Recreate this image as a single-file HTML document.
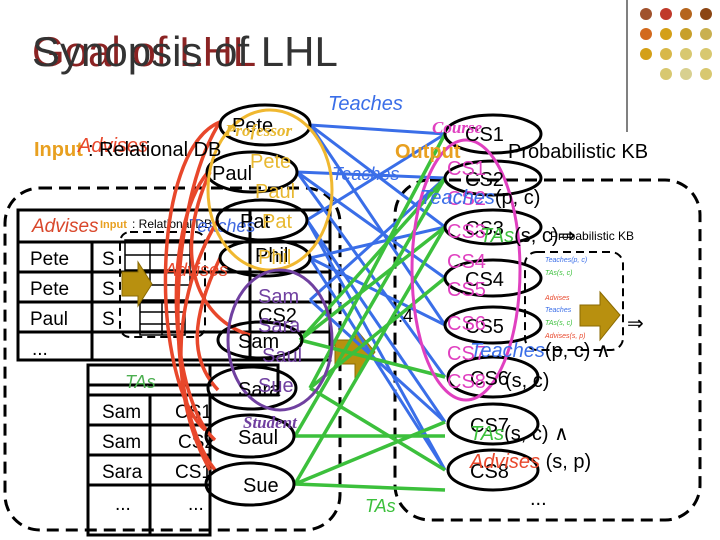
<!DOCTYPE html>
<html><head><meta charset="utf-8"><style>
body{margin:0;width:720px;height:540px;background:#fff;overflow:hidden;position:relative;font-family:"Liberation Sans",sans-serif}
svg{position:absolute;left:0;top:0}
</style></head><body>
<svg width="720" height="540" viewBox="0 0 720 540" font-family="Liberation Sans, sans-serif">
<g>
<circle cx="646" cy="14" r="6" fill="#a0522d"/><circle cx="666" cy="14" r="6" fill="#c0392b"/><circle cx="686" cy="14" r="6" fill="#b5651d"/><circle cx="706" cy="14" r="6" fill="#8b4513"/>
<circle cx="646" cy="34" r="6" fill="#d2691e"/><circle cx="666" cy="34" r="6" fill="#d4a017"/><circle cx="686" cy="34" r="6" fill="#c8a02a"/><circle cx="706" cy="34" r="6" fill="#c9b050"/>
<circle cx="646" cy="54" r="6" fill="#d4a017"/><circle cx="666" cy="54" r="6" fill="#d8b84a"/><circle cx="686" cy="54" r="6" fill="#d8c870"/><circle cx="706" cy="54" r="6" fill="#d8c870"/>
<circle cx="666" cy="74" r="6" fill="#d8c870"/><circle cx="686" cy="74" r="6" fill="#d8d090"/><circle cx="706" cy="74" r="6" fill="#d8c870"/>
</g>
<line x1="627" y1="0" x2="627" y2="132" stroke="#000" stroke-width="1"/>
<text x="32" y="66" font-size="42" fill="#8b2323">Goal of LHL</text>
<text x="32" y="66" font-size="42" fill="#333">Synopsis of LHL</text>

<rect x="5" y="188" width="335" height="342" rx="35" fill="none" stroke="#000" stroke-width="3" stroke-dasharray="12,7"/>
<rect x="395" y="180" width="305" height="340" rx="35" fill="none" stroke="#000" stroke-width="3" stroke-dasharray="12,7"/>
<rect x="525" y="252" width="98" height="98" rx="12" fill="none" stroke="#000" stroke-width="2" stroke-dasharray="8,5"/>
<rect x="120" y="232" width="85" height="105" rx="10" fill="none" stroke="#000" stroke-width="2" stroke-dasharray="8,5"/>

<g stroke="#000" stroke-width="3" fill="none">
<rect x="18" y="210" width="312" height="150"/>
<line x1="18" y1="242" x2="330" y2="242"/>
<line x1="18" y1="272" x2="330" y2="272"/>
<line x1="18" y1="302" x2="330" y2="302"/>
<line x1="18" y1="332" x2="330" y2="332"/>
<line x1="92" y1="242" x2="92" y2="360"/>
<line x1="250" y1="210" x2="250" y2="360"/>
<rect x="88" y="365" width="122" height="20"/>
<rect x="88" y="365" width="190" height="30"/>
<rect x="88" y="395" width="122" height="140"/>
<line x1="88" y1="425" x2="210" y2="425"/>
<line x1="88" y1="455" x2="210" y2="455"/>
<line x1="88" y1="485" x2="210" y2="485"/>
<line x1="150" y1="395" x2="150" y2="535"/>
</g>
<g stroke="#000" stroke-width="1.5" fill="none">
<rect x="125" y="240" width="65" height="45"/><line x1="125" y1="255" x2="190" y2="255"/><line x1="125" y1="270" x2="190" y2="270"/><line x1="150" y1="240" x2="150" y2="285"/>
<rect x="140" y="300" width="45" height="35"/><line x1="140" y1="312" x2="185" y2="312"/><line x1="140" y1="324" x2="185" y2="324"/><line x1="162" y1="300" x2="162" y2="335"/>
</g>
<g font-size="19" fill="#000">
<text x="30" y="265">Pete</text><text x="30" y="295">Pete</text><text x="30" y="325">Paul</text><text x="32" y="355">...</text>
<text x="102" y="265">S</text><text x="102" y="295">S</text><text x="102" y="325">S</text>
<text x="102" y="418">Sam</text><text x="175" y="418">CS1</text>
<text x="102" y="448">Sam</text><text x="178" y="448">CS2</text>
<text x="102" y="478">Sara</text><text x="175" y="478">CS1</text>
<text x="115" y="510">...</text><text x="188" y="510">...</text>
</g>
<text x="32" y="232" font-size="19" font-style="italic" fill="#d9472b">Advises</text>
<text x="100" y="228" font-size="11" fill="#e8a020" font-weight="bold">Input</text>
<text x="132" y="228" font-size="12" fill="#000">: Relational DB</text>
<text x="188" y="232" font-size="18" font-style="italic" fill="#4169e1">Teaches</text>
<text x="125" y="388" font-size="18" font-style="italic" fill="#4caf50">TAs</text>

<polygon points="122,272 138,272 138,262 152,284 138,306 138,296 122,296" fill="#b8900f" stroke="#8a6a00"/>
<polygon points="335,340 355,340 355,328 375,352 355,378 355,364 335,364" fill="#b8900f" stroke="#8a6a00"/>
<polygon points="580,305 600,305 600,292 620,315 600,340 600,326 580,326" fill="#b8900f" stroke="#8a6a00"/>

<g stroke="#3a6ee8" stroke-width="3">
<line x1="310" y1="125" x2="445" y2="134"/><line x1="310" y1="125" x2="445" y2="227"/><line x1="310" y1="125" x2="445" y2="325"/>
<line x1="297" y1="172" x2="445" y2="178"/><line x1="297" y1="172" x2="445" y2="278"/><line x1="297" y1="172" x2="445" y2="377"/>
<line x1="307" y1="220" x2="445" y2="134"/><line x1="307" y1="220" x2="445" y2="422"/><line x1="307" y1="220" x2="445" y2="470"/>
<line x1="310" y1="258" x2="445" y2="227"/><line x1="310" y1="258" x2="445" y2="470"/><line x1="310" y1="258" x2="445" y2="325"/>
<line x1="310" y1="300" x2="445" y2="178"/><line x1="310" y1="300" x2="445" y2="422"/>
</g>
<g stroke="#3cc03c" stroke-width="3.5">
<line x1="300" y1="340" x2="445" y2="178"/><line x1="300" y1="340" x2="445" y2="377"/><line x1="300" y1="340" x2="445" y2="227"/>
<line x1="310" y1="388" x2="445" y2="134"/><line x1="310" y1="388" x2="445" y2="470"/><line x1="310" y1="388" x2="445" y2="278"/>
<line x1="295" y1="436" x2="445" y2="178"/><line x1="295" y1="436" x2="445" y2="436"/>
<line x1="295" y1="484" x2="445" y2="227"/><line x1="295" y1="484" x2="445" y2="422"/><line x1="295" y1="484" x2="445" y2="490"/>
</g>
<g stroke="#e8472b" stroke-width="3.5" fill="none">
<path d="M220,122 C150,150 150,380 205,430"/>
<path d="M220,122 C170,200 160,400 215,470"/>
<path d="M208,172 C160,230 170,400 215,440"/>
<path d="M218,220 C170,300 170,400 210,470"/>
<path d="M220,258 C190,320 190,360 218,390"/>
<path d="M210,172 C170,260 200,320 250,335"/>
</g>

<g stroke="#000" stroke-width="3" fill="none">
<ellipse cx="265" cy="125" rx="45" ry="20"/>
<ellipse cx="252" cy="172" rx="45" ry="20"/>
<ellipse cx="262" cy="220" rx="45" ry="20"/>
<ellipse cx="265" cy="258" rx="45" ry="18"/>
<ellipse cx="260" cy="340" rx="42" ry="18"/>
<ellipse cx="252" cy="388" rx="44" ry="21"/>
<ellipse cx="250" cy="436" rx="44" ry="21"/>
<ellipse cx="250" cy="484" rx="44" ry="21"/>
</g>
<g stroke="#000" stroke-width="3" fill="none">
<ellipse cx="493" cy="134" rx="48" ry="19"/>
<ellipse cx="493" cy="178" rx="48" ry="17"/>
<ellipse cx="493" cy="227" rx="48" ry="17"/>
<ellipse cx="493" cy="278" rx="48" ry="18"/>
<ellipse cx="493" cy="325" rx="48" ry="18"/>
<ellipse cx="493" cy="377" rx="45" ry="20"/>
<ellipse cx="493" cy="424" rx="45" ry="20"/>
<ellipse cx="493" cy="470" rx="45" ry="20"/>
</g>
<ellipse cx="270" cy="190" rx="62" ry="80" fill="none" stroke="#f0b830" stroke-width="3"/>
<ellipse cx="280" cy="340" rx="52" ry="70" fill="none" stroke="#7040a0" stroke-width="3"/>
<ellipse cx="466" cy="270" rx="54" ry="130" fill="none" stroke="#e040c0" stroke-width="3"/>

<g font-size="20" fill="#000">
<text x="232" y="132">Pete</text><text x="212" y="180">Paul</text><text x="240" y="228">Pat</text><text x="255" y="262">Phil</text>
<text x="258" y="322">CS2</text><text x="238" y="348">Sam</text><text x="238" y="396">Sara</text><text x="238" y="444">Saul</text><text x="243" y="492">Sue</text>
<text x="465" y="141">CS1</text><text x="465" y="186">CS2</text><text x="465" y="235">CS3</text><text x="465" y="286">CS4</text><text x="465" y="333">CS5</text>
<text x="470" y="385">CS6</text><text x="470" y="432">CS7</text><text x="470" y="478">CS8</text>
</g>
<g font-size="20" fill="#e8b830"><text x="250" y="168">Pete</text><text x="255" y="198">Paul</text><text x="262" y="228">Pat</text><text x="258" y="264">Phil</text></g>
<g font-size="20" fill="#7040a0"><text x="258" y="303">Sam</text><text x="258" y="332">Sara</text><text x="262" y="362">Saul</text><text x="258" y="392">Sue</text></g>
<g font-size="20" fill="#e040c0"><text x="447" y="175">CS1</text><text x="447" y="205">CS2</text><text x="447" y="238">CS3</text><text x="447" y="268">CS4</text><text x="447" y="296">CS5</text><text x="447" y="330">CS6</text><text x="447" y="360">CS7</text><text x="447" y="388">CS8</text></g>
<text x="225" y="136" font-size="17" font-style="italic" font-weight="bold" font-family="Liberation Serif, serif" fill="#e8b830">Professor</text>
<text x="432" y="133" font-size="17" font-style="italic" font-weight="bold" font-family="Liberation Serif, serif" fill="#e040c0">Course</text>
<text x="243" y="428" font-size="17" font-style="italic" font-weight="bold" font-family="Liberation Serif, serif" fill="#7040a0">Student</text>
<text x="328" y="110" font-size="20" font-style="italic" fill="#3a6ee8">Teaches</text>
<text x="332" y="180" font-size="18" font-style="italic" fill="#3a6ee8">Teaches</text>
<text x="165" y="276" font-size="18" font-style="italic" fill="#e8472b">Advises</text>
<text x="365" y="512" font-size="18" font-style="italic" fill="#3cc03c">TAs</text>

<text x="34" y="156" font-size="20" font-weight="bold" fill="#e8a020">Input</text>
<text x="78" y="152" font-size="20" font-style="italic" fill="#e8472b">Advises</text>
<text x="88" y="156" font-size="20" fill="#000">: Relational DB</text>
<text x="395" y="158" font-size="20" font-weight="bold" fill="#e8a020">Output</text>
<text x="508" y="158" font-size="20" fill="#000">Probabilistic KB</text>

<g font-size="20" fill="#000">
<text x="420" y="204"><tspan fill="#3a6ee8" font-style="italic">Teaches</tspan>(p, c)</text>
<text x="480" y="242"><tspan fill="#3cc03c" font-style="italic">TAs</tspan>(s, c)⇒</text>
<text x="627" y="330">⇒</text>
<text x="470" y="357"><tspan fill="#3a6ee8" font-style="italic">Teaches</tspan>(p, c) ∧</text>
<text x="505" y="387">(s, c)</text>
<text x="470" y="440"><tspan fill="#3cc03c" font-style="italic">TAs</tspan>(s, c) ∧</text>
<text x="470" y="468"><tspan fill="#e8472b" font-style="italic">Advises</tspan> (s, p)</text>
<text x="530" y="505">...</text>
</g>
<text x="550" y="240" font-size="12" fill="#000">Probabilistic KB</text>
<g font-size="7" font-style="italic"><text x="545" y="262" fill="#3a6ee8">Teaches(p, c)</text><text x="545" y="275" fill="#3cc03c">TAs(s, c)</text><text x="545" y="300" fill="#e8472b">Advises</text><text x="545" y="312" fill="#3a6ee8">Teaches</text><text x="545" y="325" fill="#3cc03c">TAs(s, c)</text><text x="545" y="338" fill="#e8472b">Advises(s, p)</text></g>
<text x="398" y="322" font-size="18">.4</text>
</svg>
</body></html>
